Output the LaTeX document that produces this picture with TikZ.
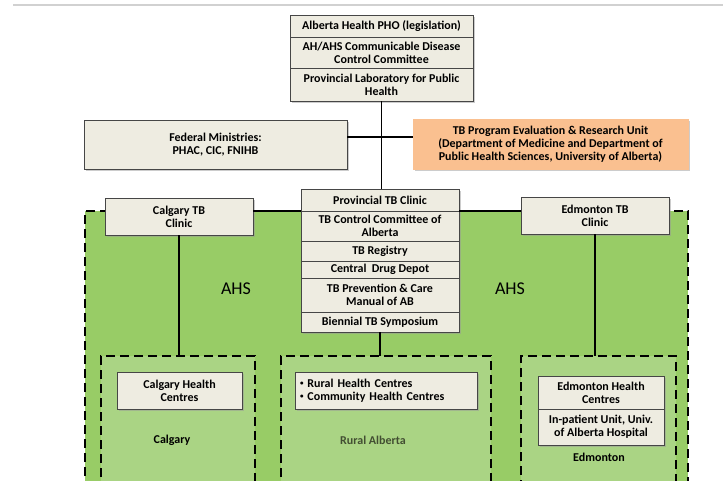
\documentclass[tikz,border=0pt]{standalone}
\usepackage{fontspec}
\setmainfont{Carlito}
\usepackage{tikz}
\usetikzlibrary{positioning,shadows}
\definecolor{boxfill}{RGB}{238,236,225}
\definecolor{boxline}{RGB}{70,70,70}
\definecolor{evalorange}{RGB}{250,192,144}
\definecolor{ahsgreen}{RGB}{152,204,102}
\definecolor{areagreen}{RGB}{170,212,132}
\definecolor{ruraltext}{RGB}{66,78,50}
\newcommand{\smallbullet}{\raisebox{1.5pt}{\fontsize{7}{7}\selectfont\textbullet}}

\begin{document}
\begin{tikzpicture}[
            x = 1pt, y = -1pt, % one unit per pixel, y downwards
            box/.style = {draw=boxline, fill=boxfill, line width=0.8pt,
                inner sep=1pt, outer sep=0pt, align=center,
                font=\bfseries\fontsize{12}{12.8}\selectfont,
                drop shadow={shadow xshift=1.5pt, shadow yshift=-1.5pt, fill=black!40}},
            area/.style = {fill=areagreen, draw=black, line width=2.2pt,
                dash pattern=on 9pt off 5pt, anchor=north west,
                inner sep=0pt, outer sep=0pt, minimum height=140},
            link/.style = {draw=black, line width=1.8pt}, % connector lines
            place/.style = {font=\bfseries\fontsize{12}{13}\selectfont}
        ]
\useasboundingbox (0,0) rectangle (723,480);
\draw[line width=1.5pt, black!18] (13,5) -- (723,5);

% AHS region
\fill[ahsgreen] (85,211) rectangle (688,490);
\draw[line width=2.2pt, dash pattern=on 9pt off 5pt] (85,490) -- (85,211) -- (688,211) -- (688,490);
\node[area, minimum width=154] (cgyarea) at (101,356) {};
\node[area, minimum width=210] (ruralarea) at (281,356) {};
\node[area, minimum width=155] (edmarea) at (521,356) {};
\node[font=\fontsize{18}{20}\selectfont] (ahsleft) at (236,289) {AHS};
\node[font=\fontsize{18}{20}\selectfont] (ahsright) at (510,289) {AHS};

% provincial level
\node[box, minimum width=183, minimum height=22, anchor=north west] (pho) at (290,15) {Alberta Health PHO (legislation)};
\node[box, minimum width=183, minimum height=31, below=0pt of pho] (cdc) {AH/AHS Communicable Disease\\Control Committee};
\node[box, minimum width=183, minimum height=33, below=0pt of cdc] (provlab) {Provincial Laboratory for Public\\Health};
\node[box, minimum width=263, minimum height=49, anchor=north west] (fed) at (84,120) {Federal Ministries:\\PHAC, CIC, FNIHB};
\node[box, fill=evalorange, draw=evalorange, minimum width=275, minimum height=50, anchor=north west] (eval) at (413,119) {TB Program Evaluation \& Research Unit\\(Department of Medicine and Department of\\Public Health Sciences, University of Alberta)};
\coordinate (fedlink) at (0,137);

% TB clinics
\node[box, minimum width=158, minimum height=22, anchor=north west] (ptb) at (301,189) {Provincial TB Clinic};
\node[box, minimum width=158, minimum height=30, below=0pt of ptb] (tbcc) {TB Control Committee of\\Alberta};
\node[box, minimum width=158, minimum height=20, below=0pt of tbcc] (registry) {TB Registry};
\node[box, minimum width=158, minimum height=17, below=0pt of registry] (depot) {Central~ Drug Depot};
\node[box, minimum width=158, minimum height=34, below=0pt of depot] (manual) {TB Prevention \& Care\\Manual of AB};
\node[box, minimum width=158, minimum height=20, below=0pt of manual] (symposium) {Biennial TB Symposium};
\node[box, minimum width=148, minimum height=37, anchor=north west] (cgyclinic) at (105,198) {Calgary TB\\Clinic};
\node[box, minimum width=148, minimum height=37, anchor=north west] (edmclinic) at (521,197) {Edmonton TB\\Clinic};

% local level
\node[box, minimum width=125, minimum height=37, anchor=north west] (cgyhc) at (117,372) {Calgary Health\\Centres};
\node[box, minimum width=182, minimum height=37, text width=172, inner xsep=5pt, align=left, anchor=north west] (ruralhc) at (295,372) {\smallbullet\ Rural Health Centres\\\smallbullet\ Community Health Centres};
\node[box, minimum width=126, minimum height=33, anchor=north west] (edmhc) at (538,376) {Edmonton Health\\Centres};
\node[box, minimum width=126, minimum height=36, below=0pt of edmhc] (inpatient) {In-patient Unit, Univ.\\of Alberta Hospital};
\node[place] (cgylabel) at (172,440) {Calgary};
\node[place, text=ruraltext] (rurallabel) at (373,440) {Rural Alberta};
\node[place] (edmlabel) at (599,457) {Edmonton};

 \path [link] (provlab.south) edge (provlab.south |- ptb.north);
 \path [link] (fed.east |- fedlink) edge (eval.west |- fedlink);
 \path [link] (ptb.south west) edge (ptb.south west -| cgyclinic.east);
 \path [link] (ptb.south east) edge (ptb.south east -| edmclinic.west);
   \path [link] (cgyclinic.south) edge (cgyclinic.south |- cgyarea.north);
   \path [link] (symposium.south) edge (symposium.south |- ruralarea.north);
   \path [link] (edmclinic.south) edge (edmclinic.south |- edmarea.north);
\end{tikzpicture}
\end{document}
